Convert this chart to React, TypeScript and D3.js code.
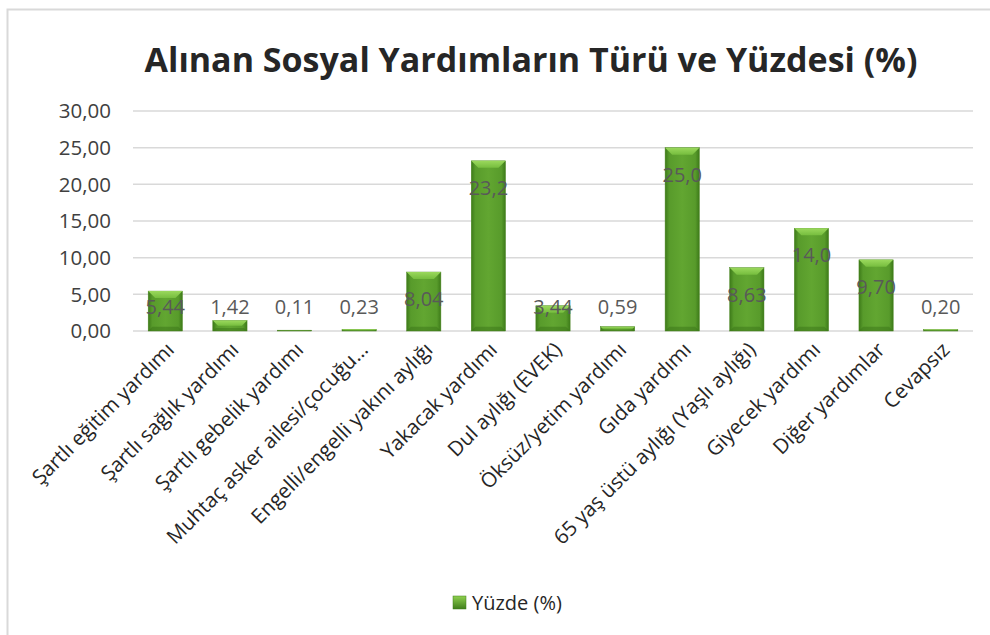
import React from "react";
import * as d3 from "d3";

const categories = [
  "Şartlı eğitim yardımı",
  "Şartlı sağlık yardımı",
  "Şartlı gebelik yardımı",
  "Muhtaç asker ailesi/çocuğu…",
  "Engelli/engelli yakını aylığı",
  "Yakacak yardımı",
  "Dul aylığı (EVEK)",
  "Öksüz/yetim yardımı",
  "Gıda yardımı",
  "65 yaş üstü aylığı (Yaşlı aylığı)",
  "Giyecek yardımı",
  "Diğer yardımlar",
  "Cevapsız",
];
const values = [5.44, 1.42, 0.11, 0.23, 8.04, 23.2, 3.44, 0.59, 25.0, 8.63, 14.0, 9.7, 0.2];
const valueLabels = ["5,44", "1,42", "0,11", "0,23", "8,04", "23,2", "3,44", "0,59", "25,0", "8,63", "14,0", "9,70", "0,20"];
const yTicks = [0, 5, 10, 15, 20, 25, 30];
const seriesName = "Yüzde (%)";
const title = "Alınan Sosyal Yardımların Türü ve Yüzdesi (%)";

const W = 990;
const H = 635;
const plot = { left: 133, right: 973, top: 111, bottom: 331 };
const font = "'Open Sans', 'Noto Sans', sans-serif";

export default function App() {
  const x = d3
    .scaleBand<string>()
    .domain(categories)
    .range([plot.left, plot.right])
    .paddingInner(0.47)
    .paddingOuter(0.235);
  const y = d3.scaleLinear().domain([0, 30]).range([plot.bottom, plot.top]);
  const fmt = (v: number) => d3.format(".2f")(v).replace(".", ",");
  const bw = x.bandwidth();

  return (
    <svg width={W} height={H} style={{ position: "absolute", left: 0, top: 0, display: "block" }} fontFamily={font}>
      <defs>
        <linearGradient id="barH" x1="0" x2="1" y1="0" y2="0">
          <stop offset="0" stopColor="#3d7a19" />
          <stop offset="0.12" stopColor="#589b2b" />
          <stop offset="0.5" stopColor="#62a631" />
          <stop offset="0.88" stopColor="#589b2b" />
          <stop offset="1" stopColor="#3d7a19" />
        </linearGradient>
        <linearGradient id="barTop" x1="0" x2="0" y1="0" y2="1">
          <stop offset="0" stopColor="#9ad85c" />
          <stop offset="1" stopColor="#76bd3e" />
        </linearGradient>
        <linearGradient id="legG" x1="0" x2="0" y1="0" y2="1">
          <stop offset="0" stopColor="#8fd14f" />
          <stop offset="1" stopColor="#3f7d1b" />
        </linearGradient>
      </defs>
      <rect x={0} y={0} width={W} height={H} fill="#ffffff" />
      <rect x={7.5} y={9.5} width={W + 10} height={H + 10} fill="none" stroke="#d9d9d9" strokeWidth={2} />

      <text x={531} y={72} textAnchor="middle" fontSize={34} fontWeight={700} fill="#262626">
        {title}
      </text>

      {yTicks.map((t) => (
        <g key={t}>
          <line x1={plot.left} x2={plot.right} y1={y(t)} y2={y(t)} stroke="#d9d9d9" strokeWidth={1.5} />
          <text x={111} y={y(t)} dy="0.35em" textAnchor="end" fontSize={20.5} fill="#404040">
            {fmt(t)}
          </text>
        </g>
      ))}

      {categories.map((c, i) => {
        const x0 = x(c)!;
        const y0 = y(values[i]);
        const h = plot.bottom - y0;
        const bev = Math.min(7, h / 2);
        return (
          <g key={c}>
            <rect x={x0} y={y0} width={bw} height={h} fill="url(#barH)" stroke="#4a8520" strokeWidth={0.5} />
            {h > 1 && (
              <path
                d={`M${x0},${y0} L${x0 + bw},${y0} L${x0 + bw - bev},${y0 + bev} L${x0 + bev},${y0 + bev} Z`}
                fill="url(#barTop)"
              />
            )}
            {h > 1 && (
              <path
                d={`M${x0},${plot.bottom} L${x0 + bw},${plot.bottom} L${x0 + bw - bev * 0.6},${plot.bottom - bev * 0.6} L${x0 + bev * 0.6},${plot.bottom - bev * 0.6} Z`}
                fill="#3a7417"
                opacity={0.5}
              />
            )}
          </g>
        );
      })}

      {categories.map((c, i) => {
        const cx = x(c)! + bw / 2;
        const ly = Math.min(y(values[i]) + 27, 307);
        return (
          <text key={c} x={cx} y={ly} dy="0.35em" textAnchor="middle" fontSize={20} fill="#595959">
            {valueLabels[i]}
          </text>
        );
      })}

      {categories.map((c) => {
        const cx = x(c)! + bw / 2;
        return (
          <text
            key={c}
            transform={`translate(${cx + 5},${plot.bottom + 15}) rotate(-45)`}
            textAnchor="end"
            dy="0.35em"
            fontSize={20.5}
            fill="#262626"
          >
            {c}
          </text>
        );
      })}

      <rect x={453} y={596} width={13} height={13} fill="url(#legG)" stroke="#3f7d1b" strokeWidth={0.5} />
      <text x={472} y={603} dy="0.35em" fontSize={20} fill="#262626">
        {seriesName}
      </text>
    </svg>
  );
}
